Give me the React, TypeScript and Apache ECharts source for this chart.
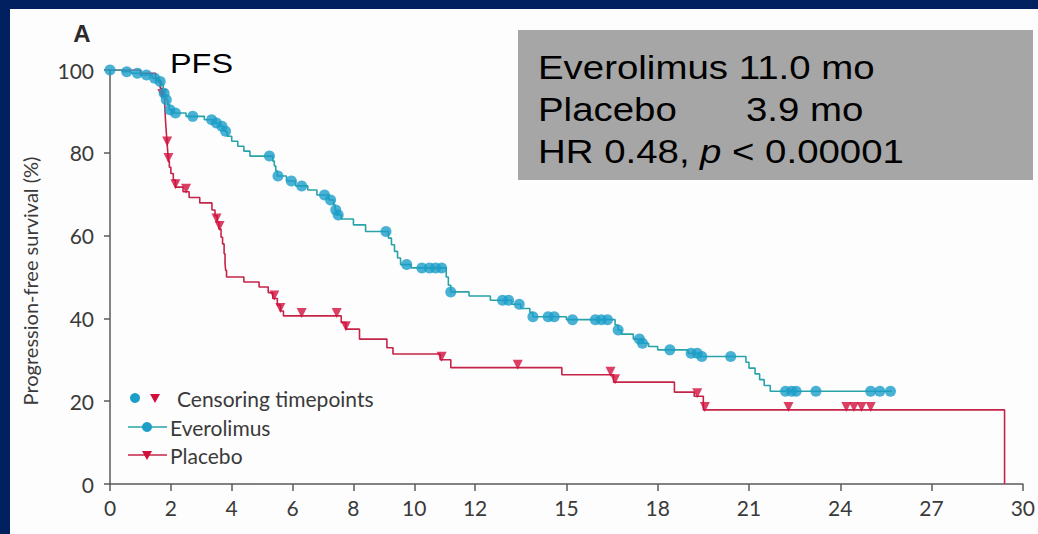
import React, { useEffect, useRef } from "react";
import * as echarts from "echarts";

// ---- data (months, % progression-free) ----
const xTickValues = [0, 2, 4, 6, 8, 10, 12, 15, 18, 21, 24, 27, 30];
const yTickValues = [0, 20, 40, 60, 80, 100];

const everolimusCurve: [number, number][] = [
  [0, 100], [0.4, 99.6], [0.7, 99.2], [1.0, 98.8], [1.4, 98.0], [1.6, 97.2], [1.7, 96.4],
  [1.75, 95.2], [1.8, 94.0], [1.85, 92.8], [1.9, 91.6], [1.95, 90.4], [2.05, 89.6], [2.5, 88.8],
  [3.1, 88.0], [3.4, 87.2], [3.6, 86.4], [3.75, 85.2], [3.85, 84.0], [4.0, 82.8], [4.2, 81.6],
  [4.4, 80.4], [4.6, 79.2], [5.35, 78.0], [5.4, 76.8], [5.45, 75.6], [5.5, 74.4], [5.8, 73.2],
  [6.1, 72.0], [6.5, 71.0], [6.8, 69.8], [7.2, 68.6], [7.35, 67.4], [7.4, 66.2], [7.45, 65.0],
  [7.6, 64.0], [8.0, 62.6], [8.4, 61.0], [9.15, 59.4], [9.25, 57.8], [9.35, 56.2], [9.45, 54.6],
  [9.55, 53.0], [9.9, 52.2], [11.05, 50.0], [11.12, 48.0], [11.2, 46.4], [11.8, 45.4], [12.5, 44.4],
  [13.2, 43.4], [13.5, 42.4], [13.8, 41.4], [13.9, 40.4], [15.0, 39.7], [16.6, 38.4], [16.7, 37.2],
  [16.8, 36.2], [17.2, 35.0], [17.5, 34.0], [17.7, 33.2], [18.0, 32.4], [19.0, 31.6], [19.4, 30.8],
  [20.9, 29.4], [21.0, 28.0], [21.2, 26.6], [21.35, 25.2], [21.5, 23.8], [21.7, 22.4], [25.7, 22.4],
];

const everolimusCensored: [number, number][] = [
  [0, 100], [0.55, 99.6], [0.9, 99.2], [1.2, 98.8], [1.47, 98.0], [1.65, 97.2], [1.78, 94.4],
  [1.85, 92.8], [1.97, 90.4], [2.15, 89.6], [2.72, 88.8], [3.34, 88.0], [3.5, 87.2], [3.68, 86.4],
  [3.8, 85.2], [5.24, 79.2], [5.52, 74.4], [5.96, 73.2], [6.3, 72.0], [7.05, 69.8], [7.25, 68.6],
  [7.42, 66.2], [7.5, 65.0], [9.07, 61.0], [9.75, 53.0], [10.25, 52.2], [10.5, 52.2], [10.7, 52.2],
  [10.9, 52.2], [11.2, 46.4], [12.9, 44.4], [13.1, 44.4], [13.45, 43.4], [13.9, 40.4], [14.4, 40.4],
  [14.6, 40.4], [15.2, 39.7], [15.95, 39.7], [16.15, 39.7], [16.35, 39.7], [16.7, 37.2], [17.4, 35.0],
  [17.5, 34.0], [18.4, 32.4], [19.1, 31.6], [19.3, 31.6], [19.45, 30.8], [20.4, 30.8], [22.2, 22.4],
  [22.4, 22.4], [22.55, 22.4], [23.2, 22.4], [25.0, 22.4], [25.3, 22.4], [25.65, 22.4],
];

const placeboCurve: [number, number][] = [
  [0, 100], [1.0, 99.2], [1.5, 97.6], [1.65, 95.6], [1.72, 93.5], [1.8, 91.5], [1.82, 88.4],
  [1.84, 86.0], [1.86, 84.0], [1.88, 82.0], [1.9, 80.0], [1.92, 78.0], [1.95, 76.5], [2.0, 75.0],
  [2.08, 73.4], [2.15, 71.7], [2.4, 70.6], [2.6, 69.2], [2.95, 67.9], [3.35, 66.2], [3.45, 64.8],
  [3.52, 63.4], [3.58, 61.6], [3.65, 59.6], [3.7, 58.0], [3.75, 55.6], [3.78, 53.4], [3.8, 51.6],
  [3.83, 50.0], [4.4, 48.8], [4.9, 47.6], [5.2, 46.2], [5.35, 44.8], [5.5, 43.2], [5.6, 41.8],
  [5.7, 40.6], [7.6, 39.0], [7.75, 37.4], [8.2, 35.0], [9.1, 32.9], [9.3, 31.4], [10.85, 30.0],
  [11.2, 28.1], [14.85, 26.4], [16.55, 24.6], [18.55, 22.2], [19.2, 21.2], [19.5, 17.9], [29.4, 0],
];

const placeboCensored: [number, number][] = [
  [1.72, 93.5], [1.88, 82.0], [1.92, 78.0], [2.15, 71.7], [2.5, 70.6], [3.5, 63.4], [3.6, 61.6],
  [5.4, 44.8], [5.6, 41.8], [6.3, 40.6], [7.45, 40.6], [7.75, 37.4], [10.9, 30.0], [13.4, 28.1],
  [16.45, 26.4], [16.6, 24.6], [19.3, 21.2], [19.55, 17.9], [22.3, 17.9], [24.2, 17.9],
  [24.45, 17.9], [24.7, 17.9], [25.0, 17.9],
];

const yAxisTitle = "Progression-free survival (%)";
const panelLetter = "A";
const endpointLabel = "PFS";
const legendLabels = ["Censoring timepoints", "Everolimus", "Placebo"];
const statLines = ["Everolimus 11.0 mo", "Placebo", "3.9 mo", "HR 0.48,", "p", "< 0.00001"];

// ---- style ----
const TEAL_LINE = "#2aa3a8";
const TEAL_DOT = "#1c9ec8";
const RED_LINE = "#c42448";
const RED_DOT = "#d20f3c";
const AXIS = "#5a5a5a";
const TXT = "#3a3a3a";
const LATO = "Lato, 'Open Sans', sans-serif";
const ARIAL = "'Liberation Sans', Arial, sans-serif";

function tri(cx: number, cy: number, s: number) {
  return [[cx - s, cy - s * 0.8], [cx + s, cy - s * 0.8], [cx, cy + s]];
}

function boxText(text: string, x: number, y: number, italic = false) {
  return {
    type: "text", x, y, scaleX: 1.13,
    style: {
      text, font: `${italic ? "italic " : ""}34px ${ARIAL}`, fill: "#000",
      align: "left", verticalAlign: "middle", textAlign: "left", textVerticalAlign: "middle",
    },
  };
}

export default function App() {
  const ref = useRef<HTMLDivElement>(null);
  useEffect(() => {
    document.body.style.margin = "0";
    const chart = echarts.init(ref.current!, null, { renderer: "svg" });
    const option: any = {
      animation: false,
      backgroundColor: "transparent",
      grid: { left: 100, right: 12, top: 61, bottom: 50 },
      xAxis: {
        type: "value",
        min: 0,
        max: 30,
        axisLine: { show: true, lineStyle: { color: AXIS, width: 1.5 } },
        axisTick: { show: true, length: 7, lineStyle: { color: AXIS, width: 1.5 }, customValues: xTickValues },
        axisLabel: { customValues: xTickValues, color: TXT, fontSize: 21, fontFamily: LATO, margin: 13 },
        splitLine: { show: false },
      },
      yAxis: {
        type: "value",
        min: 0,
        max: 100,
        interval: 20,
        axisLine: { show: true, lineStyle: { color: AXIS, width: 1.5 } },
        axisTick: { show: true, length: 6, lineStyle: { color: AXIS, width: 1.5 } },
        axisLabel: { color: TXT, fontSize: 21, fontFamily: LATO, margin: 16,
          formatter: (v: number) => (yTickValues.includes(v) ? String(v) : "") },
        splitLine: { show: false },
      },
      series: [
        {
          type: "line", step: "end", data: placeboCurve, showSymbol: false, z: 2,
          lineStyle: { color: RED_LINE, width: 1.6 },
        },
        {
          type: "scatter", data: placeboCensored, symbol: "triangle", symbolRotate: 180,
          symbolSize: 10, symbolOffset: [0, -3], itemStyle: { color: RED_DOT }, z: 3,
        },
        {
          type: "line", step: "end", data: everolimusCurve, showSymbol: false, z: 4,
          lineStyle: { color: TEAL_LINE, width: 1.6 },
        },
        {
          type: "scatter", data: everolimusCensored, symbol: "circle", symbolSize: 11,
          itemStyle: { color: TEAL_DOT }, z: 5,
        },
      ],
      graphic: [
        { type: "text", x: 72, y: 24, style: { text: panelLetter, font: `bold 24px ${ARIAL}`, fill: "#2a2a2a", align: "center", verticalAlign: "middle", textAlign: "center", textVerticalAlign: "middle" } },
        { type: "text", x: 160, y: 54, scaleX: 1.2, style: { text: endpointLabel, font: `27px ${ARIAL}`, fill: "#000", align: "left", verticalAlign: "middle", textAlign: "left", textVerticalAlign: "middle" } },
        { type: "text", x: 20, y: 272, rotation: Math.PI / 2, style: { text: yAxisTitle, font: `20px ${LATO}`, fill: TXT, align: "center", verticalAlign: "middle", textAlign: "center", textVerticalAlign: "middle" } },
        { type: "rect", shape: { x: 508, y: 21, width: 515, height: 150 }, style: { fill: "#a6a6a6" } },
        boxText(statLines[0], 528, 58),
        boxText(statLines[1], 528, 100),
        boxText(statLines[2], 736, 100),
        boxText(statLines[3], 528, 142),
        boxText(statLines[4], 690, 142, true),
        boxText(statLines[5], 722, 142),
        { type: "circle", shape: { cx: 125, cy: 389, r: 5 }, style: { fill: TEAL_DOT } },
        { type: "polygon", shape: { points: tri(145, 389, 5) }, style: { fill: RED_DOT } },
        { type: "text", x: 167, y: 389, style: { text: legendLabels[0], font: `21px ${LATO}`, fill: TXT, align: "left", verticalAlign: "middle", textAlign: "left", textVerticalAlign: "middle" } },
        { type: "line", shape: { x1: 118, y1: 418, x2: 157, y2: 418 }, style: { stroke: TEAL_LINE, lineWidth: 1.6 } },
        { type: "circle", shape: { cx: 137, cy: 418, r: 5 }, style: { fill: TEAL_DOT } },
        { type: "text", x: 160, y: 418, style: { text: legendLabels[1], font: `21px ${LATO}`, fill: TXT, align: "left", verticalAlign: "middle", textAlign: "left", textVerticalAlign: "middle" } },
        { type: "line", shape: { x1: 118, y1: 446, x2: 157, y2: 446 }, style: { stroke: RED_LINE, lineWidth: 1.6 } },
        { type: "polygon", shape: { points: tri(137, 446, 5) }, style: { fill: RED_DOT } },
        { type: "text", x: 160, y: 446, style: { text: legendLabels[2], font: `21px ${LATO}`, fill: TXT, align: "left", verticalAlign: "middle", textAlign: "left", textVerticalAlign: "middle" } },
      ],
    };
    chart.setOption(option);
    return () => chart.dispose();
  }, []);
  return (
    <div style={{ position: "relative", width: 1038, height: 534, background: "#002060", overflow: "hidden" }}>
      <div ref={ref} style={{ position: "absolute", left: 10, top: 9, width: 1028, height: 525, background: "#fdfdfd" }} />
    </div>
  );
}
